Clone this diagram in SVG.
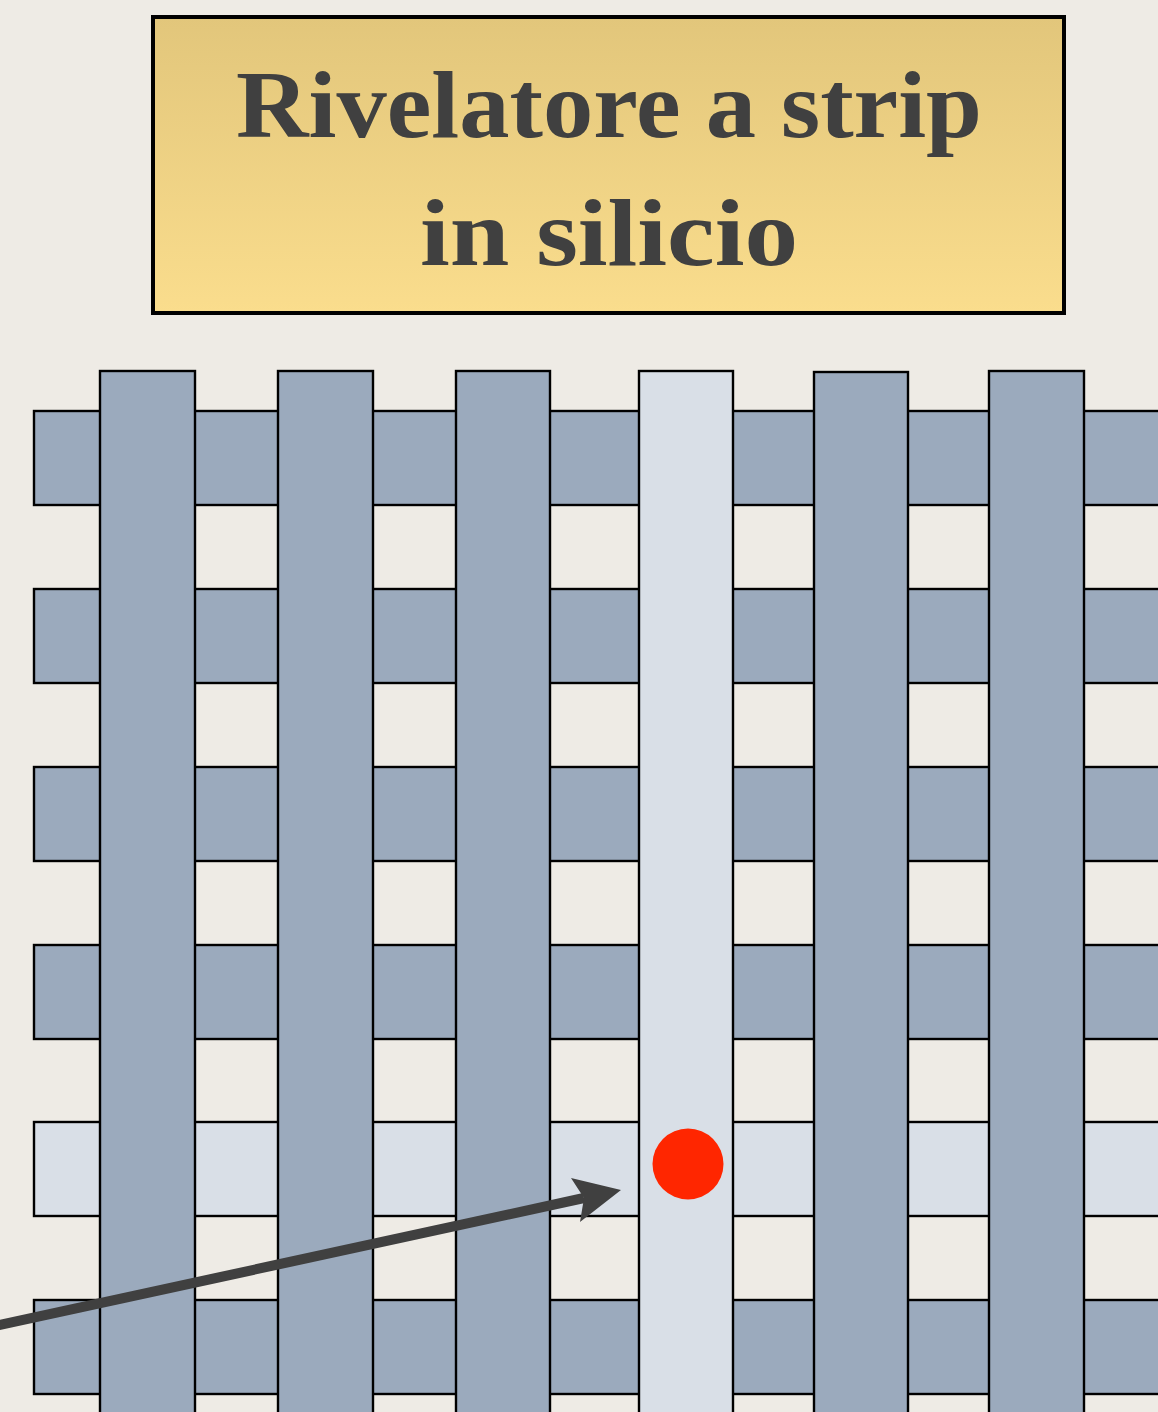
<svg xmlns="http://www.w3.org/2000/svg" width="1158" height="1412" viewBox="0 0 1158 1412">
  <defs>
    <linearGradient id="titleGrad" x1="0" y1="0" x2="0" y2="1">
      <stop offset="0" stop-color="#E2C67B"/>
      <stop offset="1" stop-color="#FADD8D"/>
    </linearGradient>
    <style>
      .strip { fill: #9BAABD; stroke: #000; stroke-width: 2.4; }
      .lit { fill: #D9DFE7; stroke: #000; stroke-width: 2.4; }
      .title { font-family: "Palatino Linotype", "Book Antiqua", "Liberation Serif", serif; font-weight: bold; font-size: 96px; fill: #404040; text-anchor: middle; }
    </style>
  </defs>
  <rect x="0" y="0" width="1158" height="1412" fill="#EEEBE5"/>

  <g id="title">
    <rect x="153" y="17" width="911" height="296" fill="url(#titleGrad)" stroke="#000" stroke-width="4"/>
    <text class="title" x="609" y="137" textLength="746" lengthAdjust="spacingAndGlyphs">Rivelatore a strip</text>
    <text class="title" x="609" y="265" textLength="378" lengthAdjust="spacingAndGlyphs">in silicio</text>
  </g>

  <g id="horizontal-strips">
    <rect id="h1" class="strip" x="34" y="411" width="1140" height="94"/>
    <rect id="h2" class="strip" x="34" y="589" width="1140" height="94"/>
    <rect id="h3" class="strip" x="34" y="767" width="1140" height="94"/>
    <rect id="h4" class="strip" x="34" y="945" width="1140" height="94"/>
    <rect id="h5" class="lit" x="34" y="1122" width="1140" height="94"/>
    <rect id="h6" class="strip" x="34" y="1300" width="1140" height="94"/>
  </g>

  <g id="vertical-strips">
    <rect id="v1" class="strip" x="100" y="371" width="95" height="1060"/>
    <rect id="v2" class="strip" x="278" y="371" width="95" height="1060"/>
    <rect id="v3" class="strip" x="456" y="371" width="94" height="1060"/>
    <rect id="v4" class="lit" x="639" y="371" width="94" height="1060"/>
    <rect id="v5" class="strip" x="814" y="372" width="94" height="1060"/>
    <rect id="v6" class="strip" x="989" y="371" width="95" height="1060"/>
  </g>

  <g id="hit">
    <circle cx="688" cy="1164" r="35.5" fill="#FF2600"/>
  </g>

  <g id="connectors">
    <line x1="-5" y1="1326" x2="584" y2="1198" stroke="#404040" stroke-width="10"/>
    <polygon points="621,1190 571,1178 584,1198 580,1222" fill="#404040"/>
  </g>
</svg>
